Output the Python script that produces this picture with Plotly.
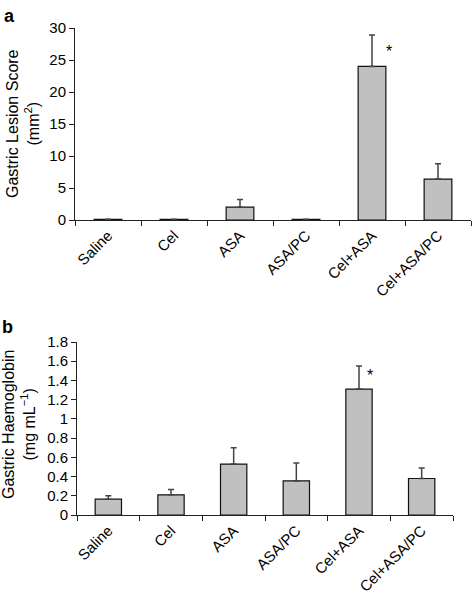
import plotly.graph_objects as go

categories = ["Saline", "Cel", "ASA", "ASA/PC", "Cel+ASA", "Cel+ASA/PC"]
lesion_mean = [0.1, 0.1, 2.0, 0.1, 24.0, 6.4]
lesion_upper = [0.1, 0.1, 3.2, 0.1, 28.9, 8.8]
hb_mean = [0.165, 0.21, 0.53, 0.355, 1.31, 0.38]
hb_upper = [0.20, 0.265, 0.70, 0.54, 1.55, 0.49]
star_a = ("Cel+ASA", 26.3)
star_b = ("Cel+ASA", 1.45)

W, H = 474, 602
FONT = "Liberation Sans, Arial, sans-serif"

def px_x(p):
    return p / W

def px_y(p):
    return 1 - p / H

fig = go.Figure()

for means, uppers, xa, ya in [(lesion_mean, lesion_upper, "x", "y"),
                              (hb_mean, hb_upper, "x2", "y2")]:
    fig.add_trace(go.Bar(
        x=categories, y=means, xaxis=xa, yaxis=ya, width=0.42,
        marker=dict(color="#c0c0c0", line=dict(color="#111111", width=1.2)),
        error_y=dict(type="data", symmetric=False,
                     array=[u - m for u, m in zip(uppers, means)],
                     arrayminus=[0] * len(means),
                     color="#444444", thickness=1.5, width=3),
        showlegend=False, hoverinfo="skip"))

axis_common = dict(showgrid=False, zeroline=False, showline=True, linecolor="#222222",
                   linewidth=1, ticks="outside", ticklen=5, tickcolor="#222222",
                   automargin=False,
                   tickfont=dict(family=FONT, size=15, color="black"))

fig.update_layout(
    width=W, height=H, margin=dict(l=0, r=0, t=0, b=0, autoexpand=False),
    plot_bgcolor="white", paper_bgcolor="white", bargap=0.58,
    font=dict(family=FONT, color="black"),
    xaxis=dict(domain=[px_x(75), px_x(471)], anchor="y", type="category",
               range=[-0.5, 5.5], tickson="boundaries", tickangle=-45, **axis_common),
    yaxis=dict(domain=[px_y(220), px_y(28)], anchor="x", range=[0, 30], dtick=5,
               **axis_common),
    xaxis2=dict(domain=[px_x(77), px_x(453)], anchor="y2", type="category",
                range=[-0.5, 5.5], tickson="boundaries", tickangle=-45, **axis_common),
    yaxis2=dict(domain=[px_y(515), px_y(342)], anchor="x2", range=[0, 1.8], dtick=0.2,
                **axis_common),
)

ann = [
    dict(text="<b>a</b>", x=px_x(9), y=px_y(16), xref="paper", yref="paper",
         xanchor="center", yanchor="middle",
         showarrow=False, font=dict(size=18, family=FONT)),
    dict(text="<b>b</b>", x=px_x(8), y=px_y(327), xref="paper", yref="paper",
         xanchor="center", yanchor="middle",
         showarrow=False, font=dict(size=18, family=FONT)),
    dict(text="Gastric Lesion Score<br>(mm<sup>2</sup>)", x=px_x(23), y=px_y(124),
         xref="paper", yref="paper", showarrow=False, textangle=-90,
         xanchor="center", yanchor="middle",
         font=dict(size=16, family=FONT)),
    dict(text="Gastric Haemoglobin<br>(mg mL<sup>\u22121</sup>)", x=px_x(19), y=px_y(425),
         xref="paper", yref="paper", showarrow=False, textangle=-90,
         xanchor="center", yanchor="middle",
         font=dict(size=16, family=FONT)),
    dict(text="*", x=star_a[0], y=star_a[1], xref="x", yref="y", xshift=17,
         showarrow=False, font=dict(size=16, family=FONT)),
    dict(text="*", x=star_b[0], y=star_b[1], xref="x2", yref="y2", xshift=11,
         showarrow=False, font=dict(size=16, family=FONT)),
]
fig.update_layout(annotations=ann)

fig.write_html("out.html", config={"displayModeBar": False},
               post_script="document.body.style.margin='0';")
